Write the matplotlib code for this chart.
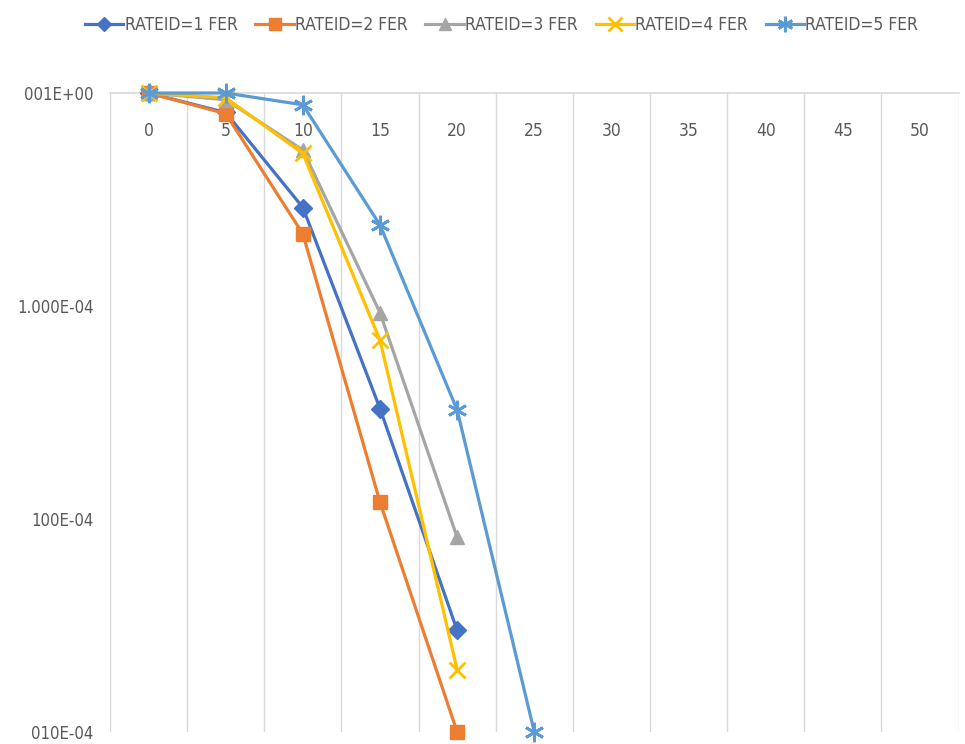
import matplotlib
matplotlib.use("Agg")
import matplotlib.pyplot as plt

plt.rcParams['font.family'] = ['DejaVu Sans']
plt.rcParams['font.stretch'] = 'condensed'

# category axis labels (SNR steps)
x_labels = ["0", "5", "10", "15", "20", "25", "30", "35", "40", "45", "50"]

# FER values per rate id
fer_rate1 = [1.0, 0.81, 0.29, 0.033, 0.003]
fer_rate2 = [1.0, 0.80, 0.218, 0.012, 0.001]
fer_rate3 = [1.0, 0.93, 0.54, 0.093, 0.0082]
fer_rate4 = [1.0, 0.95, 0.52, 0.069, 0.00196]
fer_rate5 = [1.0, 1.0, 0.88, 0.24, 0.0325, 0.001]

series_names = ["RATEID=1 FER", "RATEID=2 FER", "RATEID=3 FER",
                "RATEID=4 FER", "RATEID=5 FER"]
y_ticks = [1.0, 0.1, 0.01, 0.001]
y_labels = ["001E+00", "1.000E-04", "100E-04", "010E-04"]

colors = ["#4472C4", "#ED7D31", "#A5A5A5", "#FFC000", "#5B9BD5"]
markers = ["D", "s", "^", "x", (6, 2, 0)]
msizes = [9, 10, 10, 12, 14]

fig = plt.figure(figsize=(9.65, 7.44), dpi=100)
ax = fig.add_axes([110 / 965, 1 - 732 / 744, (958.6 - 110) / 965, (732 - 93) / 744])

data = [fer_rate1, fer_rate2, fer_rate3, fer_rate4, fer_rate5]
for vals, name, c, m, ms in zip(data, series_names, colors, markers, msizes):
    xs = list(range(len(vals)))
    mew = 2 if m in ("x", (6, 2, 0)) else 1
    ax.plot(xs, vals, color=c, lw=2.3, marker=m, markersize=ms,
            markeredgewidth=mew, label=name, clip_on=False, zorder=3)

ax.set_yscale("log")
ax.set_ylim(1e-3, 1.0)
ax.set_xlim(-0.5, len(x_labels) - 0.5)

ax.set_yticks(y_ticks)
ax.set_yticklabels(y_labels)
ax.minorticks_off()
ax.tick_params(axis="y", length=0, pad=12, labelsize=12, labelcolor="#595959")

ax.set_xticks(range(len(x_labels)))
ax.set_xticklabels(x_labels)
ax.xaxis.set_ticks_position("top")
ax.tick_params(axis="x", length=0, pad=-34, labelsize=12.5, labelcolor="#595959",
               labeltop=True, labelbottom=False)

# vertical gridlines between categories
for k in range(len(x_labels) + 1):
    ax.axvline(k - 0.5, color="#D9D9D9", lw=1, zorder=1)

for s in ["left", "right", "bottom"]:
    ax.spines[s].set_visible(False)
ax.spines["top"].set_color("#D9D9D9")
ax.spines["top"].set_linewidth(1.2)

leg = fig.legend(loc="upper center", bbox_to_anchor=(0.52, 1.0), ncol=5,
                 frameon=False, fontsize=12.5, handlelength=2.2,
                 columnspacing=1.0, handletextpad=0.1, markerscale=0.8)
for t in leg.get_texts():
    t.set_color("#595959")

fig.savefig("out.png", dpi=100)
